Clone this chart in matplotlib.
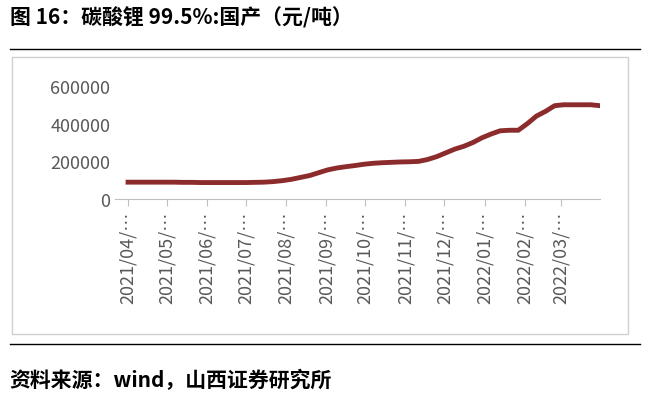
import matplotlib
matplotlib.use("Agg")
import matplotlib.pyplot as plt
import matplotlib.dates as mdates
from matplotlib.patches import Rectangle
from matplotlib.lines import Line2D
import pandas as pd

plt.rcParams['font.family'] = ['Noto Sans CJK SC', 'DejaVu Sans']

values = [90000, 90000, 90000, 90000,
          90000, 90000, 89000, 89000,
          88000, 88000, 88000, 88000,
          88000, 88000, 89000, 90000,
          93000, 98000, 105000, 115000,
          125000, 140000, 155000, 165000, 172000,
          178000, 185000, 190000, 193000,
          195000, 197000, 198000, 200000,
          210000, 225000, 245000, 265000, 280000,
          300000, 325000, 345000, 362000,
          365000, 365000,
          400000, 440000, 465000, 495000,
          500000, 500000, 500000, 500000, 495000]
dates = pd.date_range("2021-04-01", periods=len(values), freq="7D")
month_ticks = pd.date_range("2021-04-01", "2022-03-01", freq="MS")
tick_labels = [d.strftime("%Y/%m/") + "…" for d in month_ticks]
yticks = [0, 200000, 400000, 600000]

fig = plt.figure(figsize=(6.5, 4.06), dpi=100)
fig.text(0.015, 0.955, "图 16：碳酸锂 99.5%:国产（元/吨）", fontsize=15, va="center", weight="bold")
fig.add_artist(Line2D([0.015, 0.985], [0.877, 0.877], color="black", lw=1))
fig.add_artist(Line2D([0.015, 0.985], [0.150, 0.150], color="black", lw=1))
fig.text(0.015, 0.063, "资料来源：wind，山西证券研究所", fontsize=15, va="center", weight="bold")
fig.add_artist(Rectangle((0.018, 0.175), 0.948, 0.682, transform=fig.transFigure,
                         fill=False, edgecolor="#d0d0d0", lw=1))

ax = fig.add_axes([0.177, 0.507, 0.746, 0.279])
ax.plot(dates, values, color="#8c2b2b", lw=3.5)
ax.set_ylim(0, 600000)
ax.set_yticks(yticks)
ax.set_yticklabels([str(v) for v in yticks])
ax.set_xlim(pd.Timestamp("2021-03-22"), pd.Timestamp("2022-03-31"))
ax.set_xticks(month_ticks)
ax.set_xticklabels(tick_labels, rotation=90)
for s in ["top", "right", "left"]:
    ax.spines[s].set_visible(False)
ax.spines["bottom"].set_color("#bfbfbf")
ax.tick_params(axis="y", length=0, labelsize=13, colors="#595959")
ax.tick_params(axis="x", length=5, color="#bfbfbf", labelsize=13, labelcolor="#595959")
fig.savefig("out.png", dpi=100)
